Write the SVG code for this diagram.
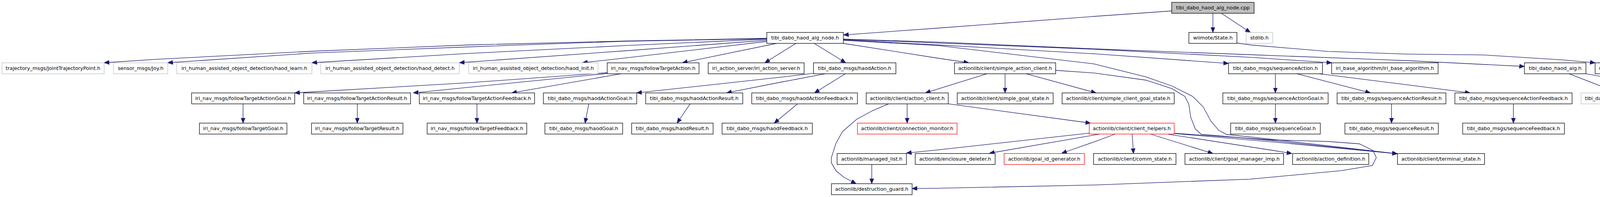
<svg xmlns="http://www.w3.org/2000/svg" width="4416" height="504" viewBox="0 0 4416 504">
<style>
rect{fill:#fff;stroke:#000;stroke-width:1.3}
rect.l{stroke:#bfbfbf}
rect.r{stroke:#ff0000}
rect.root{fill:#bfbfbf}
text{font-family:"DejaVu Sans","Liberation Sans",sans-serif;font-size:12.8px;text-anchor:middle;fill:#000}
#edges polyline,#edges path{fill:none;stroke:#191970;stroke-width:1.3;marker-end:url(#ah)}
</style>
<defs>
<marker id="ah" markerUnits="userSpaceOnUse" markerWidth="14" markerHeight="12" refX="13" refY="5.3" orient="auto"><path d="M0,0 L13,5.3 L0,10.6 z" fill="#191970" stroke="#191970" stroke-width="1"/></marker>
</defs>
<rect x="0" y="0" width="4416" height="504" style="fill:#fff;stroke:none"/>
<g id="edges">
<polyline points="2999.5,28 2800,42 2400,72 2159.5,89.3"/>
<polyline points="3105,34 3105,83"/>
<polyline points="3126.7,34 3201,83"/>
<polyline points="3166.5,110 3202,115 3400,131.7 3600,138.3 3800,140.7 4002,153.3 4083.5,160.7"/>
<polyline points="1963,98 1600,105 1200,115 800,131 402,151.7 266.7,160.5"/>
<polyline points="1963,99 1600,105.5 1200,120 800,135.7 429.5,160.5"/>
<polyline points="1963,100 1600,116.7 1200,136.7 798.5,160.5"/>
<polyline points="1963,103 1600,130 1176,160.5"/>
<polyline points="1963,106 1600,148.3 1491,160.5"/>
<polyline points="1988,111 1747,160.5"/>
<polyline points="2037.7,111 1958,160.5"/>
<polyline points="2084.3,111 2165,160.5"/>
<polyline points="2159,111 2402,149 2480,160.5"/>
<polyline points="2159,100 2402,107.7 2802,125 3202,140 3600,155 3902.5,170"/>
<polyline points="2159,100.5 2402,110 2802,126 3202,146.7 3409,160.7"/>
<polyline points="2159,102 2402,115 2802,137.7 3145,162.3"/>
<polyline points="2159,103 2402,116.7 2800,163.3 2933.3,196.7 3000,220 3053.3,246.7 3080,273.3 3100,310 3120,333.3 3140,344 3260,356.7 3577,393.3"/>
<polyline points="2702.5,180 2800,186.7 2933.3,205 3000,226.7 3033.3,246.7 3043.3,266.7 3048.3,300 3060,330 3075,343.3 3260,360 3577,393.3"/>
<polyline points="1554,186 1200,211.7 800,235 754.5,237.7"/>
<polyline points="1554,188 1200,223.3 1058,237.7"/>
<polyline points="1590,188.7 1310,237.7"/>
<polyline points="2081.7,187.7 2000,197.3 1630,237.7"/>
<polyline points="2113,188.7 2000,210 1860,237.7"/>
<polyline points="2164,188.7 2085,237.7"/>
<polyline points="2526.7,188.7 2369,237.7"/>
<polyline points="2573,188.7 2573,237.7"/>
<polyline points="2626.7,188.7 2806,237.7"/>
<polyline points="3265,188.7 3265,237.7"/>
<polyline points="3320,188.7 3508.3,237.7"/>
<polyline points="3376.7,188.7 3600,216.7 3763.3,237.7"/>
<polyline points="4016.7,188.7 4143.3,237.7"/>
<polyline points="4060,188.7 4335.5,239"/>
<polyline points="622.3,265.7 622.3,315"/>
<polyline points="914.7,265.7 914.7,315"/>
<polyline points="1221,265.7 1221,315"/>
<polyline points="1507.3,265.7 1497.7,315"/>
<polyline points="1766.7,265.7 1733.3,315"/>
<polyline points="2041.7,265.7 1982,315"/>
<polyline points="3265,265.7 3265,315"/>
<polyline points="3562.3,265.7 3562.3,315"/>
<polyline points="3874.3,265.7 3874.3,315"/>
<polyline points="2322.3,265.7 2322.3,315"/>
<polyline points="2427.5,265.7 2792,315"/>
<polyline points="2275,265.7 2233.3,283.3 2193.3,305 2156.7,336.7 2140,366.7 2128.3,403.3 2128.3,416.7 2140,436.7 2160,453.3 2191.7,470"/>
<polyline points="2788.5,340.7 2402,383.3 2320.5,391.7"/>
<polyline points="2815,343 2533,392"/>
<polyline points="2855,343 2800,363.3 2718,392"/>
<polyline points="2898.3,343 2901.7,392.7"/>
<polyline points="2945,343 3105,392.7"/>
<polyline points="2990,343.3 3260,385 3307,392.7"/>
<polyline points="3006,341.5 3260,363.3 3577,393.3"/>
<polyline points="3006,341 3260,358 3400,362 3480,368 3515,385 3523.3,403.3 3513.3,423.3 3433.3,436.7 3200,458.3 2800,473.3 2400,481.7 2335,482.3"/>
<polyline points="2231.7,420.7 2231.7,470"/>
</g>
<g id="n_cpp"><rect class="root" x="2999.5" y="6" width="211" height="28"/><text x="3105" y="24.3">tibi_dabo_haod_alg_node.cpp</text></g>
<g id="n_nodeh"><rect x="1963" y="83" width="196" height="28"/><text x="2061" y="101.3">tibi_dabo_haod_alg_node.h</text></g>
<g id="n_state"><rect x="3043.5" y="83" width="123" height="28"/><text x="3105" y="101.3">wiimote/State.h</text></g>
<g id="n_stdlib"><rect class="l" x="3190" y="83" width="68" height="28"/><text x="3224" y="101.3">stdlib.h</text></g>
<g id="n_traj"><rect class="l" x="5" y="160.7" width="261.5" height="28"/><text x="135.75" y="179">trajectory_msgs/JointTrajectoryPoint.h</text></g>
<g id="n_joy"><rect class="l" x="290.5" y="160.7" width="139" height="28"/><text x="360" y="179">sensor_msgs/Joy.h</text></g>
<g id="n_learn"><rect class="l" x="452.5" y="160.7" width="346" height="28"/><text x="625.5" y="179">iri_human_assisted_object_detection/haod_learn.h</text></g>
<g id="n_detect"><rect class="l" x="821" y="160.7" width="355" height="28"/><text x="998.5" y="179">iri_human_assisted_object_detection/haod_detect.h</text></g>
<g id="n_init"><rect class="l" x="1199.5" y="160.7" width="331.5" height="28"/><text x="1365.25" y="179">iri_human_assisted_object_detection/haod_init.h</text></g>
<g id="n_fta"><rect x="1554.5" y="160.7" width="235" height="28"/><text x="1672" y="179">iri_nav_msgs/followTargetAction.h</text></g>
<g id="n_ias"><rect x="1813" y="160.7" width="245.5" height="28"/><text x="1935.75" y="179">iri_action_server/iri_action_server.h</text></g>
<g id="n_haodA"><rect x="2082.5" y="160.7" width="211" height="28"/><text x="2188" y="179">tibi_dabo_msgs/haodAction.h</text></g>
<g id="n_sac"><rect x="2443.5" y="160.7" width="259" height="28"/><text x="2573" y="179">actionlib/client/simple_action_client.h</text></g>
<g id="n_seqA"><rect x="3145" y="160.7" width="240.5" height="28"/><text x="3265.25" y="179">tibi_dabo_msgs/sequenceAction.h</text></g>
<g id="n_iba"><rect x="3409" y="160.7" width="272.5" height="28"/><text x="3545.25" y="179">iri_base_algorithm/iri_base_algorithm.h</text></g>
<g id="n_alg"><rect x="3902.5" y="160.7" width="157.5" height="28"/><text x="3981.25" y="179">tibi_dabo_haod_alg.h</text></g>
<g id="n_irs"><rect x="4083.5" y="160.7" width="163" height="28"/><text x="4165" y="179">wiimote/IrSourceInfo.h</text></g>
<g id="n_ftaG"><rect x="490.5" y="237.7" width="264" height="28"/><text x="622.5" y="256">iri_nav_msgs/followTargetActionGoal.h</text></g>
<g id="n_ftaR"><rect x="777.5" y="237.7" width="273.5" height="28"/><text x="914.25" y="256">iri_nav_msgs/followTargetActionResult.h</text></g>
<g id="n_ftaF"><rect x="1073.5" y="237.7" width="295" height="28"/><text x="1221" y="256">iri_nav_msgs/followTargetActionFeedback.h</text></g>
<g id="n_hAG"><rect x="1391" y="237.7" width="239" height="28"/><text x="1510.5" y="256">tibi_dabo_msgs/haodActionGoal.h</text></g>
<g id="n_hAR"><rect x="1653" y="237.7" width="248.5" height="28"/><text x="1777.25" y="256">tibi_dabo_msgs/haodActionResult.h</text></g>
<g id="n_hAF"><rect x="1924.5" y="237.7" width="270.5" height="28"/><text x="2059.75" y="256">tibi_dabo_msgs/haodActionFeedback.h</text></g>
<g id="n_ac"><rect x="2217.5" y="237.7" width="210" height="28"/><text x="2322.5" y="256">actionlib/client/action_client.h</text></g>
<g id="n_sgs"><rect x="2450.5" y="237.7" width="245.5" height="28"/><text x="2573.25" y="256">actionlib/client/simple_goal_state.h</text></g>
<g id="n_scgs"><rect x="2719" y="237.7" width="287" height="28"/><text x="2862.5" y="256">actionlib/client/simple_client_goal_state.h</text></g>
<g id="n_sAG"><rect x="3130.5" y="237.7" width="269.5" height="28"/><text x="3265.25" y="256">tibi_dabo_msgs/sequenceActionGoal.h</text></g>
<g id="n_sAR"><rect x="3423" y="237.7" width="278.5" height="28"/><text x="3562.25" y="256">tibi_dabo_msgs/sequenceActionResult.h</text></g>
<g id="n_sAF"><rect x="3724.5" y="237.7" width="300" height="28"/><text x="3874.5" y="256">tibi_dabo_msgs/sequenceActionFeedback.h</text></g>
<g id="n_cfg"><rect class="l" x="4047.5" y="237.7" width="264" height="28"/><text x="4179.5" y="256">tibi_dabo_haod/TibiDaboHaodConfig.h</text></g>
<g id="n_mutex"><rect class="l" x="4335.5" y="237.7" width="75" height="28"/><text x="4373" y="256">mutex.h</text></g>
<g id="n_ftG"><rect x="510.5" y="315" width="224" height="28"/><text x="622.5" y="333.3">iri_nav_msgs/followTargetGoal.h</text></g>
<g id="n_ftR"><rect x="797.5" y="315" width="234" height="28"/><text x="914.5" y="333.3">iri_nav_msgs/followTargetResult.h</text></g>
<g id="n_ftF"><rect x="1093.5" y="315" width="255" height="28"/><text x="1221" y="333.3">iri_nav_msgs/followTargetFeedback.h</text></g>
<g id="n_hG"><rect x="1395" y="315" width="199" height="28"/><text x="1494.5" y="333.3">tibi_dabo_msgs/haodGoal.h</text></g>
<g id="n_hR"><rect x="1617" y="315" width="208.5" height="28"/><text x="1721.25" y="333.3">tibi_dabo_msgs/haodResult.h</text></g>
<g id="n_hF"><rect x="1848.5" y="315" width="231" height="28"/><text x="1964" y="333.3">tibi_dabo_msgs/haodFeedback.h</text></g>
<g id="n_cm"><rect class="r" x="2195" y="315" width="255" height="28"/><text x="2322.5" y="333.3">actionlib/client/connection_monitor.h</text></g>
<g id="n_ch"><rect class="r" x="2788.5" y="315" width="217.5" height="28"/><text x="2897.25" y="333.3">actionlib/client/client_helpers.h</text></g>
<g id="n_sG"><rect x="3150.5" y="315" width="229.5" height="28"/><text x="3265.25" y="333.3">tibi_dabo_msgs/sequenceGoal.h</text></g>
<g id="n_sR"><rect x="3443" y="315" width="239" height="28"/><text x="3562.5" y="333.3">tibi_dabo_msgs/sequenceResult.h</text></g>
<g id="n_sF"><rect x="3744.5" y="315" width="260.5" height="28"/><text x="3874.75" y="333.3">tibi_dabo_msgs/sequenceFeedback.h</text></g>
<g id="n_ml"><rect x="2143" y="392.7" width="177.5" height="28"/><text x="2231.75" y="411">actionlib/managed_list.h</text></g>
<g id="n_ed"><rect x="2343" y="392.7" width="204.5" height="28"/><text x="2445.25" y="411">actionlib/enclosure_deleter.h</text></g>
<g id="n_gid"><rect class="r" x="2570.5" y="392.7" width="205.5" height="28"/><text x="2673.25" y="411">actionlib/goal_id_generator.h</text></g>
<g id="n_cs"><rect x="2799.5" y="392.7" width="211" height="28"/><text x="2905" y="411">actionlib/client/comm_state.h</text></g>
<g id="n_gmi"><rect x="3033.5" y="392.7" width="252.5" height="28"/><text x="3159.75" y="411">actionlib/client/goal_manager_imp.h</text></g>
<g id="n_ad"><rect x="3309" y="392.7" width="195" height="28"/><text x="3406.5" y="411">actionlib/action_definition.h</text></g>
<g id="n_ts"><rect x="3577.5" y="392.7" width="223" height="28"/><text x="3689" y="411">actionlib/client/terminal_state.h</text></g>
<g id="n_dg"><rect x="2128.5" y="470" width="206.5" height="28"/><text x="2231.75" y="488.3">actionlib/destruction_guard.h</text></g>
</svg>
